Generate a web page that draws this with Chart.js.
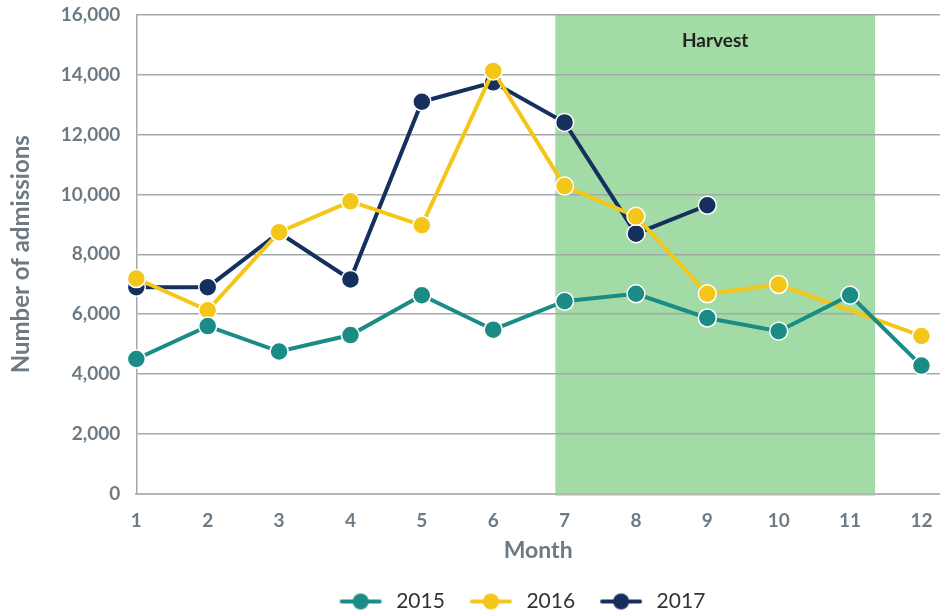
<!DOCTYPE html>
<html>
<head>
<meta charset="utf-8">
<script src="https://cdn.jsdelivr.net/npm/chart.js@4"></script>
<style>
  html, body { margin: 0; padding: 0; background: #fff; }
  #wrap { width: 940px; height: 611px; }
</style>
</head>
<body>
<div id="wrap"><canvas id="chart" width="940" height="611"></canvas></div>
<script>
// data
const months = [1, 2, 3, 4, 5, 6, 7, 8, 9, 10, 11, 12];
const admissions2015 = [4500, 5600, 4750, 5300, 6630, 5480, 6430, 6680, 5870, 5430, 6630, 4280];
const admissions2016 = [7190, 6130, 8740, 9770, 8970, 14130, 10280, 9270, 6680, 6990, null, 5270];
const admissions2017 = [6900, 6900, 8720, 7160, 13100, 13750, 12410, 8690, 9640];
const harvestStart = 6.87;
const harvestEnd = 11.35;
const harvestLabel = "Harvest";

const TEAL = "#1a8c85";
const YELLOW = "#f5c61a";
const NAVY = "#15305f";
const GREY = "#6d7a83";

// line + dot icon for the legend, with some empty room on its left
function legendIcon(color) {
  const c = document.createElement("canvas");
  c.width = 66; c.height = 20;
  const g = c.getContext("2d");
  g.strokeStyle = color;
  g.lineWidth = 4;
  g.lineCap = "round";
  g.beginPath(); g.moveTo(22, 10); g.lineTo(60, 10); g.stroke();
  g.fillStyle = color;
  g.beginPath(); g.arc(41, 10, 8, 0, Math.PI * 2); g.fill();
  return c;
}

const toPoints = arr => arr.map((v, i) => ({ x: months[i], y: v }));

const harvestBand = {
  id: "harvestBand",
  afterLayout(chart) {
    // legend in the reference sits a bit right of centre and lower
    chart.legend.left += 40;
    chart.legend.right += 40;
    chart.legend.top += 11;
    chart.legend.bottom += 11;
  },
  beforeDraw(chart) {
    const { ctx, chartArea, scales } = chart;
    const x0 = scales.x.getPixelForValue(harvestStart);
    const x1 = scales.x.getPixelForValue(harvestEnd);
    ctx.save();
    ctx.fillStyle = "#a2dba6";
    ctx.fillRect(x0, chartArea.top, x1 - x0, chartArea.bottom - chartArea.top + 2);
    ctx.fillStyle = "#222";
    ctx.font = "bold 19px Lato";
    ctx.textAlign = "center";
    ctx.textBaseline = "middle";
    ctx.fillText(harvestLabel, (x0 + x1) / 2, chartArea.top + 26);
    ctx.restore();
  }
};

const series = [
  { label: "2015", data: admissions2015, color: TEAL },
  { label: "2016", data: admissions2016, color: YELLOW },
  { label: "2017", data: admissions2017, color: NAVY }
];

new Chart(document.getElementById("chart"), {
  type: "line",
  data: {
    datasets: series.map(s => ({
      label: s.label,
      data: toPoints(s.data),
      borderColor: s.color,
      backgroundColor: s.color,
      borderWidth: 4,
      pointRadius: 9,
      pointHoverRadius: 9,
      pointBackgroundColor: s.color,
      pointBorderColor: "#ffffff",
      pointBorderWidth: 1.5,
      spanGaps: true,
      tension: 0,
      clip: false
    }))
  },
  options: {
    responsive: false,
    animation: false,
    layout: { autoPadding: false, padding: { top: 15, right: 0, left: 5, bottom: 0 } },
    plugins: {
      legend: {
        position: "bottom",
        labels: {
          usePointStyle: true,
          pointStyleWidth: 66,
          padding: 5,
          color: "#333",
          font: { family: "Lato", size: 21 },
          generateLabels(chart) {
            return chart.data.datasets.map((ds, i) => ({
              text: ds.label,
              pointStyle: legendIcon(ds.borderColor),
              fillStyle: ds.borderColor,
              strokeStyle: ds.borderColor,
              lineWidth: 0,
              datasetIndex: i,
              fontColor: "#333"
            }));
          }
        }
      },
      tooltip: { enabled: false }
    },
    scales: {
      x: {
        type: "linear",
        min: 1,
        max: 12.26,
        afterBuildTicks: axis => { axis.ticks = months.map(m => ({ value: m })); },
        afterFit: axis => { axis.paddingRight = 0; },
        grid: { display: false, drawTicks: false },
        border: { color: "#b3b7ba", width: 2 },
        ticks: {
          padding: 16,
          color: GREY,
          font: { family: "Lato", size: 19, weight: "bold" },
          callback: v => String(v)
        },
        title: {
          display: true,
          text: "Month",
          color: GREY,
          padding: { top: -12, bottom: 11 },
          font: { family: "Lato", size: 23, weight: "bold" }
        }
      },
      y: {
        min: 0,
        max: 16000,
        afterFit: axis => { axis.paddingTop = 0; },
        grid: { color: "#a3a8ab", lineWidth: 1.5, drawTicks: false },
        border: { color: "#a3a8ab", width: 1.5 },
        ticks: {
          stepSize: 2000,
          padding: 16,
          color: GREY,
          font: { family: "Lato", size: 19, weight: "bold" },
          callback: v => v.toLocaleString("en-US")
        },
        title: {
          display: true,
          text: "Number of admissions",
          color: GREY,
          padding: { top: 2, bottom: 9 },
          font: { family: "Lato", size: 24, weight: "bold" }
        }
      }
    }
  },
  plugins: [harvestBand]
});
</script>
</body>
</html>
